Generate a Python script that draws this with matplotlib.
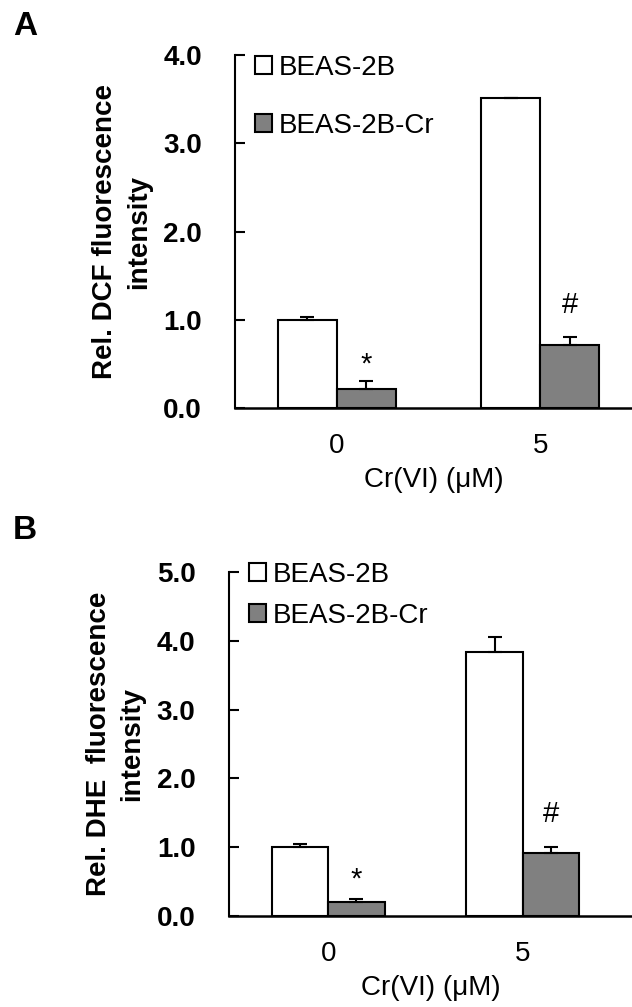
import numpy as np
import matplotlib
matplotlib.use('Agg')
from matplotlib import pyplot as plt
from matplotlib.patches import Patch

plt.rcParams['font.family'] = ['Liberation Sans', 'DejaVu Sans']

groups = ['0', '5']
labels = ['BEAS-2B', 'BEAS-2B-Cr']

# panel A: DCF
dcf_parent = [1.0, 3.51]
dcf_parent_err = [0.03, 0.0]
dcf_cr = [0.22, 0.71]
dcf_cr_err = [0.09, 0.09]
dcf_marks = ['*', '#']
dcf_mark_y = [0.40, 1.08]

# panel B: DHE
dhe_parent = [1.0, 3.84]
dhe_parent_err = [0.05, 0.21]
dhe_cr = [0.2, 0.92]
dhe_cr_err = [0.05, 0.08]
dhe_marks = ['*', '#']
dhe_mark_y = [0.42, 1.36]

fig = plt.figure(figsize=(6.32, 10.07), dpi=100)


def panel(rect, parent, parent_err, cr, cr_err, marks, mark_y, ymax, ylab, xlim, w, lspace, leg_y):
    ax = fig.add_axes(rect)
    x = np.arange(len(groups))
    ekw = dict(elinewidth=1.5, capthick=1.5, ecolor='black')
    ax.bar(x - w/2, parent, w, color='white', edgecolor='black', linewidth=1.5,
           yerr=[np.zeros(len(parent)), parent_err], capsize=5, error_kw=ekw, zorder=2)
    ax.bar(x + w/2, cr, w, color='#808080', edgecolor='black', linewidth=1.5,
           yerr=[np.zeros(len(cr)), cr_err], capsize=5, error_kw=ekw, zorder=2)
    for i, m in enumerate(marks):
        ax.text(x[i] + w/2, mark_y[i], m, ha='center', va='baseline', fontsize=21)
    ax.set_ylim(0, ymax)
    ax.set_xlim(*xlim)
    yt = np.arange(0, ymax + 0.01, 1.0)
    ax.set_yticks(yt)
    ax.set_yticklabels(['%.1f' % v for v in yt], fontsize=20, fontweight='bold')
    ax.set_xticks(x)
    ax.set_xticklabels(groups, fontsize=20)
    ax.tick_params(axis='y', direction='in', length=7, width=1.5, pad=24)
    ax.tick_params(axis='x', length=0, pad=18)
    ax.spines['top'].set_visible(False)
    ax.spines['right'].set_visible(False)
    ax.spines['left'].set_linewidth(1.5)
    ax.spines['bottom'].set_linewidth(1.8)
    ax.set_ylabel(ylab, fontsize=20, fontweight='bold', labelpad=8, linespacing=1.4)
    ax.set_xlabel('Cr(VI) (\u03bcM)', fontsize=20, labelpad=6)
    handles = [Patch(facecolor='white', edgecolor='black', linewidth=1.5),
               Patch(facecolor='#808080', edgecolor='black', linewidth=1.5)]
    ax.legend(handles, labels, loc='upper left', bbox_to_anchor=(0.05, leg_y),
              frameon=False, fontsize=20, handlelength=0.6, handleheight=0.6,
              handletextpad=0.25, labelspacing=lspace, borderaxespad=0, borderpad=0)
    return ax


panel([0.372, 0.5948, 0.628, 0.3506], dcf_parent, dcf_parent_err, dcf_cr, dcf_cr_err,
      dcf_marks, dcf_mark_y, 4.0, 'Rel. DCF fluorescence\nintensity', (-0.50, 1.45), 0.29,
      1.15, 1.0)
panel([0.362, 0.0904, 0.638, 0.3416], dhe_parent, dhe_parent_err, dhe_cr, dhe_cr_err,
      dhe_marks, dhe_mark_y, 5.0, 'Rel. DHE  fluorescence\nintensity', (-0.51, 1.56), 0.29,
      0.55, 1.03)

fig.text(0.04, 0.974, 'A', fontsize=24, fontweight='bold', ha='center', va='center')
fig.text(0.04, 0.473, 'B', fontsize=24, fontweight='bold', ha='center', va='center')

fig.savefig('out.png', dpi=100)
